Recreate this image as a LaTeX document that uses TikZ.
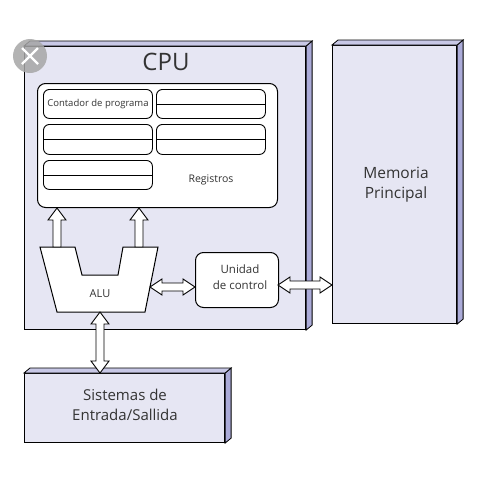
\documentclass[tikz,border=0pt]{standalone}
\usepackage{fontspec}
\setmainfont{Open Sans}
\usetikzlibrary{calc}
\definecolor{slabfill}{HTML}{E6E6F3}
\definecolor{sidefill}{HTML}{ABABD8}
\definecolor{topfill}{HTML}{C8C8E6}
\definecolor{txt}{HTML}{333333}
\newcommand\slabsides[1]{%
  \filldraw[sideface] (#1.north east) -- ++(6,-5) -- ($(#1.south east)+(6,-5)$) -- (#1.south east) -- cycle;
  \filldraw[topface] (#1.north west) -- ++(6,-5) -- ($(#1.north east)+(6,-5)$) -- (#1.north east) -- cycle;}
\newcommand\ArrUp[2]{\path[arrbody] let \p1=#1, \p2=#2 in
  (\x1-4pt,\y1) -- (\x1-4pt,\y2-12pt) -- (\x1-9pt,\y2-12pt) -- (\x1,\y2) -- (\x1+9pt,\y2-12pt) -- (\x1+4pt,\y2-12pt) -- (\x1+4pt,\y1) -- cycle;}
\newcommand\ArrV[2]{\path[arrbody] let \p1=#1, \p2=#2 in
  (\x1,\y1) -- (\x1+9pt,\y1-12pt) -- (\x1+4pt,\y1-12pt) -- (\x1+4pt,\y2+12pt) -- (\x1+9pt,\y2+12pt) -- (\x1,\y2) -- (\x1-9pt,\y2+12pt) -- (\x1-4pt,\y2+12pt) -- (\x1-4pt,\y1-12pt) -- (\x1-9pt,\y1-12pt) -- cycle;}
\newcommand\ArrH[2]{\path[arrbody] let \p1=#1, \p2=#2 in
  (\x1,\y1) -- (\x1+12pt,\y1+8pt) -- (\x1+12pt,\y1+4pt) -- (\x2-12pt,\y1+4pt) -- (\x2-12pt,\y1+8pt) -- (\x2,\y1) -- (\x2-12pt,\y1-8pt) -- (\x2-12pt,\y1-4pt) -- (\x1+12pt,\y1-4pt) -- (\x1+12pt,\y1-8pt) -- cycle;}
\begin{document}
\begin{tikzpicture}[x=1pt,y=-1pt,
  slab/.style={draw=black, line width=1.1pt, fill=slabfill, inner sep=0pt, anchor=north west},
  sideface/.style={fill=sidefill, draw=black, line width=0.8pt},
  topface/.style={fill=topfill, draw=black, line width=0.8pt},
  regbox/.style={draw=black, line width=1pt, fill=white, rounded corners=8pt, inner sep=0pt, anchor=north west},
  reg/.style={draw=black, line width=0.9pt, fill=white, rounded corners=6pt, inner sep=0pt, anchor=north west, minimum width=109pt, minimum height=29pt},
  arrbody/.style={draw=black, line width=0.9pt, fill=white},
  lbl/.style={text=txt, align=center, inner sep=0pt}
]
\useasboundingbox[fill=white] (0,0) rectangle (480,480);
% CPU
\node[slab, minimum width=281pt, minimum height=283pt] (cpu) at (24,46) {};
\slabsides{cpu}
\node[lbl, font=\fontsize{24}{28}\selectfont] (cputxt) at (166,62) {CPU};
% Memoria
\node[slab, minimum width=124pt, minimum height=278pt] (mem) at (332,45) {};
\slabsides{mem}
\node[lbl, font=\fontsize{15.5}{20}\selectfont] (memtxt) at (396,185) {Memoria\\Principal};
% E/S
\node[slab, minimum width=200pt, minimum height=69pt] (io) at (24,373) {};
\slabsides{io}
\node[lbl, font=\fontsize{15}{20}\selectfont] (iotxt) at (125,405) {Sistemas de\\Entrada/Sallida};
% Registros
\node[regbox, minimum width=240pt, minimum height=124pt] (regs) at (37,83) {};
\node[reg, font=\fontsize{9.5}{11}\selectfont, text=txt] (r1) at (43,89) {Contador de programa};
\node[reg] (r2) at (156,89) {};
\node[reg, minimum height=30pt] (r3) at (43,124) {};
\node[reg, minimum height=30pt] (r4) at (156,124) {};
\node[reg] (r5) at (43,160) {};
\foreach \r in {r2,r3,r4,r5} \draw[line width=0.9pt] (\r.west) -- (\r.east);
\node[lbl, font=\fontsize{10.5}{12}\selectfont] (regtxt) at (211,180) {Registros};
% ALU
\draw[line width=1pt, fill=white] (40,247) -- (75,247) -- (82,275) -- (118,275) -- (123,247) -- (158,247) -- (145,312) -- (57,312) -- cycle;
\coordinate (aluInL) at (57,247);
\coordinate (aluInR) at (139,247);
\coordinate (aluR) at (150,287);
\coordinate (aluB) at (100,312);
\node[lbl, font=\fontsize{11}{13}\selectfont] (alu) at (100,294) {ALU};
% Unidad de control
\node[draw=black, line width=1pt, fill=white, rounded corners=8pt, anchor=north west, minimum width=83pt, minimum height=55pt, inner sep=0pt] (uc) at (195,252) {};
\node[lbl, font=\fontsize{11.5}{16}\selectfont] (uctxt) at (240,277) {Unidad\\de control};
\coordinate (ucR) at (278,285);
% arrows
\ArrUp{(aluInL)}{(aluInL |- regs.south)}
\ArrUp{(aluInR)}{(aluInR |- regs.south)}
\ArrH{(aluR)}{(aluR -| uc.west)}
\ArrH{(ucR)}{(ucR -| mem.west)}
\ArrV{(aluB)}{(aluB |- io.north)}
% viewer close button
\node[circle, fill=black!35, opacity=0.85, minimum size=34pt, inner sep=0pt] (close) at (30,56) {};
\draw[white, line width=2.2pt] ($(close.center)+(-8,-8)$) -- ($(close.center)+(8,8)$) ($(close.center)+(-8,8)$) -- ($(close.center)+(8,-8)$);
\end{tikzpicture}
\end{document}
